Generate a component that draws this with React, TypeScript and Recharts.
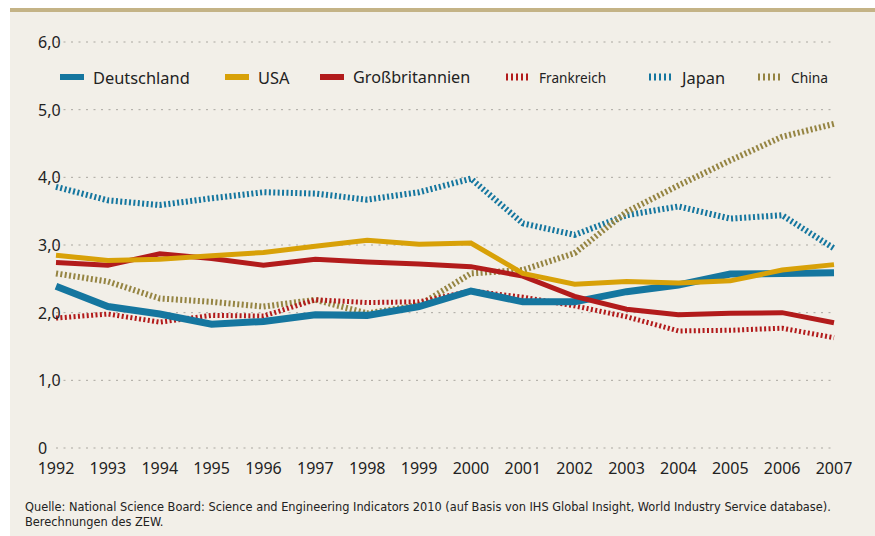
import React from 'react';
import { LineChart, Line, XAxis, YAxis, CartesianGrid } from 'recharts';

const years = ['1992','1993','1994','1995','1996','1997','1998','1999','2000','2001','2002','2003','2004','2005','2006','2007'];
const deutschland = [2.39,2.09,1.98,1.83,1.87,1.97,1.96,2.09,2.32,2.16,2.16,2.31,2.41,2.57,2.58,2.59];
const usa = [2.85,2.77,2.79,2.84,2.89,2.98,3.07,3.01,3.03,2.58,2.42,2.46,2.44,2.47,2.63,2.71];
const grossbritannien = [2.74,2.70,2.87,2.80,2.70,2.79,2.75,2.72,2.68,2.54,2.24,2.05,1.97,1.99,2.00,1.85];
const frankreich = [1.92,1.98,1.86,1.96,1.95,2.19,2.15,2.16,2.32,2.23,2.10,1.94,1.73,1.74,1.77,1.63];
const japan = [3.86,3.66,3.59,3.69,3.78,3.76,3.67,3.78,3.98,3.32,3.15,3.44,3.57,3.39,3.44,2.95];
const china = [2.58,2.46,2.21,2.16,2.09,2.19,1.99,2.11,2.58,2.63,2.88,3.49,3.88,4.25,4.60,4.79];
const yTicks = [0, 1, 2, 3, 4, 5, 6];
const yTickLabels = ['0', '1,0', '2,0', '3,0', '4,0', '5,0', '6,0'];
const sourceLine1 = 'Quelle: National Science Board: Science and Engineering Indicators 2010 (auf Basis von IHS Global Insight, World Industry Service database).';
const sourceLine2 = 'Berechnungen des ZEW.';

const data = years.map((y, i) => ({
  year: y,
  Deutschland: deutschland[i],
  USA: usa[i],
  'Großbritannien': grossbritannien[i],
  Frankreich: frankreich[i],
  Japan: japan[i],
  China: china[i],
}));

const BLUE = '#15769f';
const GOLD = '#d8a108';
const RED = '#b21b1b';
const OLIVE = '#958442';
const DASH = '2 2.4';

const FONT = '"Noto Sans", "Open Sans", sans-serif';
const NARROW = '"Liberation Sans Narrow", "DejaVu Sans Condensed", "Roboto Condensed", sans-serif';

const legendItems = [
  { name: 'Deutschland', color: BLUE, dotted: false, left: 60, size: 16.4 },
  { name: 'USA', color: GOLD, dotted: false, left: 225, size: 16.4 },
  { name: 'Großbritannien', color: RED, dotted: false, left: 320, size: 16.2 },
  { name: 'Frankreich', color: RED, dotted: true, left: 506, size: 13.6 },
  { name: 'Japan', color: BLUE, dotted: true, left: 649, size: 16.4 },
  { name: 'China', color: OLIVE, dotted: true, left: 758, size: 13.8 },
];

const YTick = (props: any) => {
  const { x, y, payload } = props;
  const idx = yTicks.indexOf(payload.value);
  return (
    <text x={x - 18} y={y} dy={6} textAnchor="start" fontSize={16} fill="#222" fontFamily={FONT}>
      {yTickLabels[idx]}
    </text>
  );
};

const XTick = (props: any) => {
  const { x, y, payload } = props;
  return (
    <text x={x} y={y} dy={26} textAnchor="middle" fontSize={16} fill="#222" fontFamily={FONT}>
      {payload.value}
    </text>
  );
};

const Swatch = ({ color, dotted }: { color: string; dotted: boolean }) => (
  <svg width={24} height={8} style={{ display: 'block' }}>
    {dotted ? (
      <line x1={0} y1={4} x2={24} y2={4} stroke={color} strokeWidth={7} strokeDasharray="2 3" />
    ) : (
      <rect x={0} y={1} width={24} height={6} fill={color} />
    )}
  </svg>
);

export default function App() {
  return (
    <div style={{ position: 'absolute', left: 0, top: 0, width: 875, height: 536, background: '#ffffff', overflow: 'hidden' }}>
      <div style={{ position: 'absolute', left: 10, top: 8, width: 865, height: 528, background: '#f2efe8' }} />
      <div style={{ position: 'absolute', left: 10, top: 8, width: 865, height: 4, background: '#c4b386' }} />
      <div style={{ position: 'absolute', left: 0, top: 0 }}>
        <LineChart width={875} height={536} data={data} margin={{ top: 42, right: 41, bottom: 58, left: 38 }}>
          <CartesianGrid horizontal vertical={false} stroke="#aaa7a0" strokeDasharray="2 5.5" />
          <XAxis dataKey="year" axisLine={false} tickLine={false} tickSize={0} tickMargin={0} height={30} tick={<XTick />} interval={0} padding={{ left: 0, right: 0 }} />
          <YAxis domain={[0, 6]} ticks={yTicks} axisLine={false} tickLine={false} tickSize={0} tickMargin={0} width={18} tick={<YTick />} />
          <Line dataKey="Japan" stroke={BLUE} strokeWidth={6} strokeDasharray={DASH} dot={false} isAnimationActive={false} />
          <Line dataKey="China" stroke={OLIVE} strokeWidth={6} strokeDasharray={DASH} dot={false} isAnimationActive={false} />
          <Line dataKey="Frankreich" stroke={RED} strokeWidth={5} strokeDasharray={DASH} dot={false} isAnimationActive={false} />
          <Line dataKey="Deutschland" stroke={BLUE} strokeWidth={7} dot={false} isAnimationActive={false} />
          <Line dataKey="Großbritannien" stroke={RED} strokeWidth={5} dot={false} isAnimationActive={false} />
          <Line dataKey="USA" stroke={GOLD} strokeWidth={5} dot={false} isAnimationActive={false} />
        </LineChart>
      </div>
      {legendItems.map((it) => (
        <div key={it.name} style={{ position: 'absolute', left: it.left, top: 66, height: 22, display: 'flex', alignItems: 'center', fontFamily: FONT, fontSize: it.size, color: '#222' }}>
          <Swatch color={it.color} dotted={it.dotted} />
          <span style={{ marginLeft: 9 }}>{it.name}</span>
        </div>
      ))}
      <div style={{ position: 'absolute', left: 25, top: 499, fontFamily: NARROW, fontSize: 12.65, lineHeight: '15px', color: '#222' }}>
        <div>{sourceLine1}</div>
        <div>{sourceLine2}</div>
      </div>
    </div>
  );
}
